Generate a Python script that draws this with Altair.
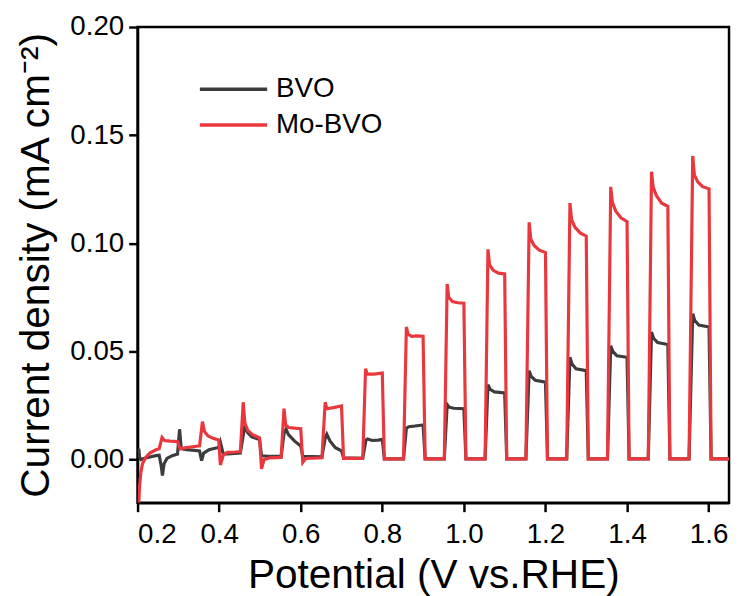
import altair as alt
import pandas as pd

# ---- data ----
v_bvo = [0.203, 0.205, 0.208, 0.215, 0.230, 0.245, 0.253,
         0.258, 0.261, 0.265, 0.272, 0.285, 0.298,
         0.303, 0.307, 0.320, 0.340, 0.352,
         0.357, 0.362, 0.375, 0.390, 0.399,
         0.403, 0.410, 0.430, 0.452,
         0.458, 0.463, 0.470, 0.480, 0.499,
         0.504, 0.520, 0.552,
         0.559, 0.564, 0.570, 0.585, 0.600,
         0.605, 0.652,
         0.660, 0.664, 0.672, 0.685, 0.700,
         0.705, 0.752,
         0.760, 0.764, 0.775, 0.790, 0.800,
         0.805, 0.852,
         0.859, 0.865, 0.880, 0.900,
         0.905, 0.952,
         0.959, 0.964, 0.975, 1.000,
         1.005, 1.052,
         1.059, 1.064, 1.075, 1.100,
         1.105, 1.152,
         1.160, 1.165, 1.175, 1.200,
         1.205, 1.252,
         1.260, 1.265, 1.275, 1.300,
         1.305, 1.352,
         1.360, 1.365, 1.375, 1.400,
         1.405, 1.452,
         1.460, 1.465, 1.475, 1.500,
         1.505, 1.552,
         1.561, 1.566, 1.576, 1.601,
         1.606, 1.650]
i_bvo = [0.0050, 0.0010, 0.0000, 0.0005, 0.0012, 0.0018, 0.0020,
         -0.0030, -0.0074, -0.0020, 0.0005, 0.0018, 0.0025,
         0.0140, 0.0050, 0.0045, 0.0042, 0.0040,
         -0.0005, 0.0030, 0.0045, 0.0052, 0.0056,
         0.0080, 0.0025, 0.0027, 0.0030,
         0.0100, 0.0155, 0.0125, 0.0105, 0.0092,
         0.0017, 0.0015, 0.0015,
         0.0120, 0.0140, 0.0115, 0.0085, 0.0063,
         0.0015, 0.0012,
         0.0100, 0.0117, 0.0085, 0.0055, 0.0040,
         0.0008, 0.0006,
         0.0090, 0.0095, 0.0088, 0.0090, 0.0093,
         0.0003, 0.0003,
         0.0145, 0.0152, 0.0155, 0.0160,
         0.0003, 0.0003,
         0.0254, 0.0242, 0.0237, 0.0235,
         0.0003, 0.0003,
         0.0346, 0.0325, 0.0313, 0.0308,
         0.0003, 0.0003,
         0.0411, 0.0384, 0.0366, 0.0358,
         0.0003, 0.0003,
         0.0473, 0.0442, 0.0420, 0.0411,
         0.0003, 0.0003,
         0.0526, 0.0500, 0.0480, 0.0473,
         0.0003, 0.0003,
         0.0590, 0.0561, 0.0541, 0.0532,
         0.0003, 0.0003,
         0.0674, 0.0643, 0.0622, 0.0613,
         0.0003, 0.0003]

v_mo = [0.203, 0.205, 0.208, 0.212, 0.220, 0.230, 0.245, 0.253,
        0.260, 0.266, 0.280, 0.298,
        0.304, 0.320, 0.340, 0.352,
        0.359, 0.364, 0.372, 0.385, 0.399,
        0.403, 0.410, 0.420, 0.440, 0.452,
        0.459, 0.463, 0.470, 0.482, 0.499,
        0.504, 0.510, 0.525, 0.552,
        0.559, 0.563, 0.570, 0.585, 0.600,
        0.605, 0.612, 0.652,
        0.660, 0.664, 0.680, 0.700,
        0.705, 0.752,
        0.759, 0.763, 0.780, 0.800,
        0.805, 0.852,
        0.859, 0.863, 0.872, 0.885, 0.900,
        0.905, 0.952,
        0.959, 0.963, 0.972, 0.985, 1.000,
        1.005, 1.052,
        1.059, 1.063, 1.072, 1.085, 1.100,
        1.105, 1.152,
        1.160, 1.164, 1.172, 1.185, 1.200,
        1.205, 1.252,
        1.260, 1.264, 1.272, 1.285, 1.300,
        1.305, 1.352,
        1.360, 1.364, 1.372, 1.385, 1.400,
        1.405, 1.452,
        1.460, 1.464, 1.472, 1.485, 1.500,
        1.505, 1.552,
        1.561, 1.565, 1.573, 1.585, 1.601,
        1.606, 1.650]
i_mo = [-0.0200, -0.0120, -0.0060, -0.0020, 0.0010, 0.0030, 0.0045, 0.0050,
        0.0102, 0.0088, 0.0085, 0.0083,
        0.0050, 0.0055, 0.0060, 0.0063,
        0.0175, 0.0130, 0.0110, 0.0098, 0.0090,
        -0.0025, 0.0020, 0.0033, 0.0035, 0.0037,
        0.0265, 0.0170, 0.0135, 0.0115, 0.0100,
        -0.0043, 0.0000, 0.0008, 0.0010,
        0.0235, 0.0160, 0.0148, 0.0145, 0.0143,
        -0.0013, 0.0005, 0.0008,
        0.0265, 0.0235, 0.0240, 0.0248,
        0.0005, 0.0005,
        0.0420, 0.0395, 0.0395, 0.0400,
        0.0003, 0.0003,
        0.0613, 0.0580, 0.0570, 0.0572, 0.0570,
        0.0003, 0.0003,
        0.0812, 0.0750, 0.0730, 0.0725, 0.0723,
        0.0003, 0.0003,
        0.0972, 0.0900, 0.0875, 0.0862, 0.0858,
        0.0003, 0.0003,
        0.1097, 0.1020, 0.0990, 0.0968, 0.0957,
        0.0003, 0.0003,
        0.1186, 0.1110, 0.1075, 0.1048, 0.1033,
        0.0003, 0.0003,
        0.1261, 0.1190, 0.1150, 0.1118, 0.1100,
        0.0003, 0.0003,
        0.1331, 0.1260, 0.1220, 0.1185, 0.1171,
        0.0003, 0.0003,
        0.1404, 0.1316, 0.1285, 0.1262, 0.1252,
        0.0003, 0.0003]

series_names = ["BVO", "Mo-BVO"]
series_colors = ["#3c3c3c", "#e8383d"]
x_ticks = [0.2, 0.4, 0.6, 0.8, 1.0, 1.2, 1.4, 1.6]
y_ticks = [0.00, 0.05, 0.10, 0.15, 0.20]

df_bvo = pd.DataFrame({"V": v_bvo, "J": i_bvo, "s": "BVO", "k": range(len(v_bvo))})
df_mo = pd.DataFrame({"V": v_mo, "J": i_mo, "s": "Mo-BVO", "k": range(len(v_mo))})

FONT = "Liberation Sans"

x_enc = alt.X("V:Q", scale=alt.Scale(domain=[0.2, 1.65], nice=False, zero=False),
              axis=alt.Axis(values=x_ticks, format=".1f", title="Potential (V vs.RHE)",
                            labelFontSize=28, titleFontSize=41, labelPadding=9,
                            titlePadding=8, titleFontWeight="normal"))
y_enc = alt.Y("J:Q", scale=alt.Scale(domain=[-0.02, 0.20], nice=False, zero=False),
              axis=alt.Axis(values=y_ticks, format=".2f", title="Current density (mA cm⁻²)",
                            labelFontSize=28, titleFontSize=41, labelPadding=5,
                            titlePadding=13, titleFontWeight="normal"))
color_enc = alt.Color("s:N", scale=alt.Scale(domain=series_names, range=series_colors),
                      legend=alt.Legend(title=None, orient="none", legendX=107, legendY=49,
                                        symbolType="M-5.8,0H1", symbolSize=400,
                                        symbolStrokeWidth=3.5, labelFontSize=28,
                                        labelOffset=5, rowPadding=8, padding=0,
                                        labelFont=FONT))

base_black = alt.Chart(df_bvo).mark_line(strokeWidth=3.2, clip=True).encode(
    x=x_enc, y=y_enc, color=color_enc, order="k:Q")
base_red = alt.Chart(df_mo).mark_line(strokeWidth=3.2, clip=True).encode(
    x=x_enc, y=y_enc, color=color_enc, order="k:Q")

chart = alt.layer(base_black, base_red).properties(
    width=598, height=481,
    autosize=alt.AutoSizeParams(type="none"),
    padding={"left": 131, "top": 16, "right": 2, "bottom": 91},
).configure_view(stroke="black", strokeWidth=2.5
).configure_axis(
    grid=False, domainColor="black", domainWidth=2.5, tickColor="black",
    tickWidth=2.5, tickSize=9, labelColor="black", titleColor="black",
    labelFont=FONT, titleFont=FONT
).configure_legend(labelColor="black")

chart.save("out.html", embed_options={"renderer": "svg", "actions": False})
